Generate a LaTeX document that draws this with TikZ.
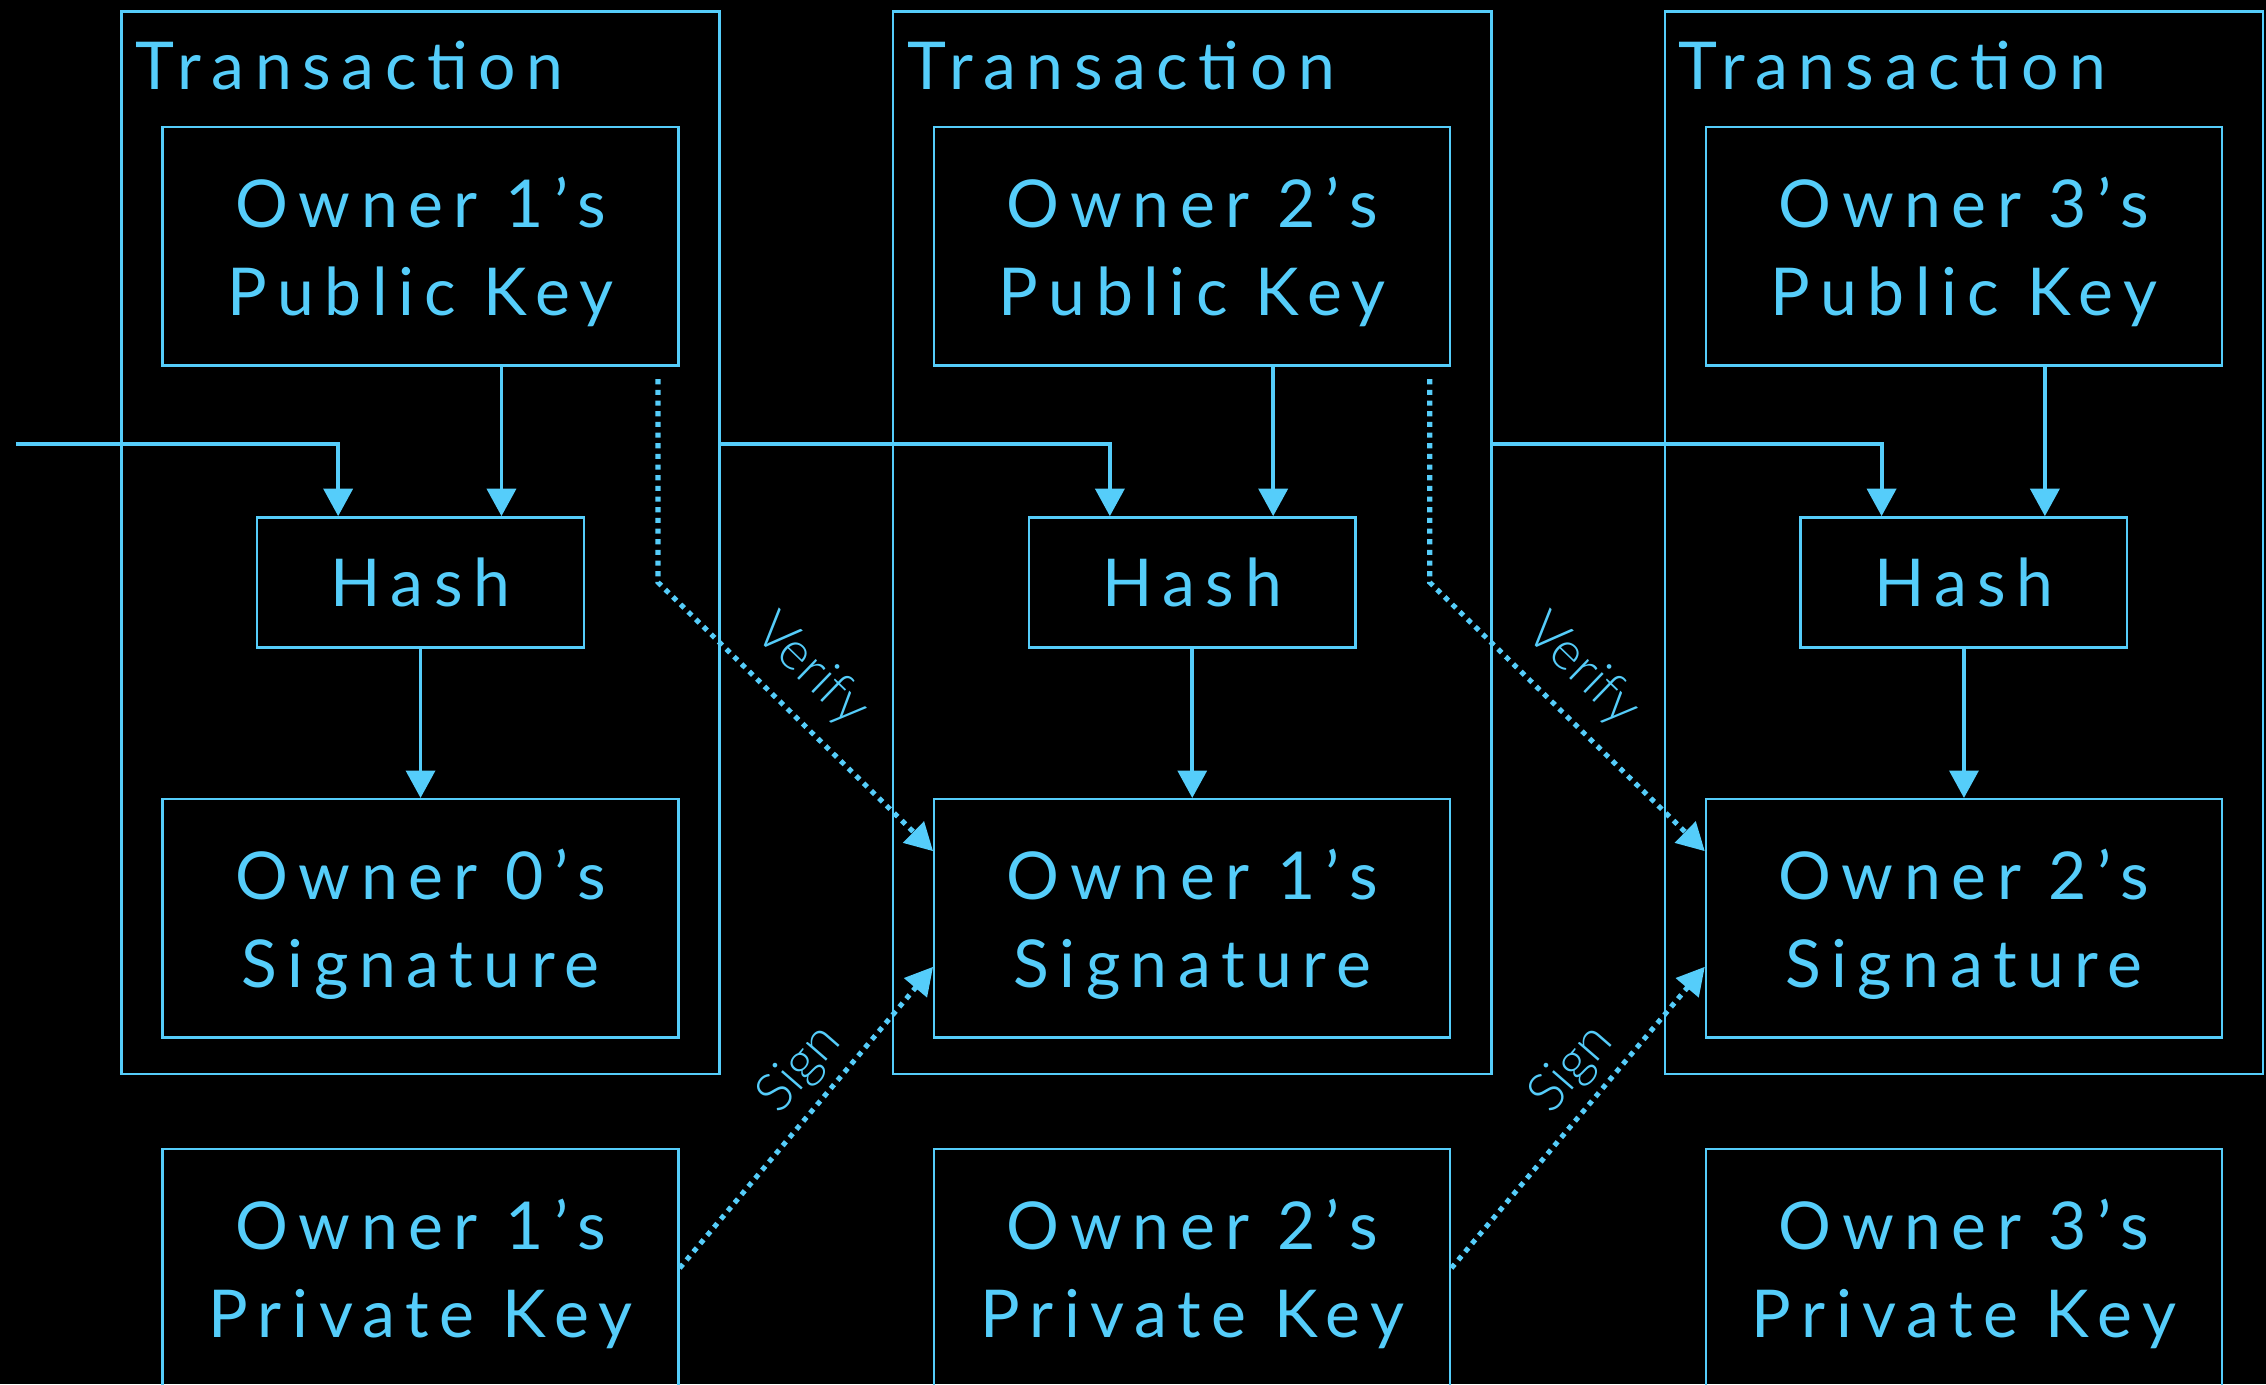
\documentclass[tikz,border=0pt]{standalone}
\usepackage{fontspec}
\setmainfont{Lato}
\newfontfamily\thinfont{Lato Light}
\usetikzlibrary{arrows.meta}
\definecolor{chain}{RGB}{85,205,250}
\newcommand\spaced{\fontsize{13}{17.4}\selectfont\addfontfeature{LetterSpace=16}}

\begin{document}
\begin{tikzpicture}[
		x=0.1mm, y=-0.1mm,
		every node/.style={text=chain},
		frame/.style={draw=chain, line width=0.47pt, minimum width=41.4mm, minimum height=73.5mm, inner sep=0pt},
		box/.style={draw=chain, line width=0.47pt, minimum width=35.7mm, minimum height=16.5mm, inner sep=0pt, align=center, font=\spaced, text depth=0pt},
		hashbox/.style={box, minimum width=22.6mm, minimum height=9mm},
		title/.style={anchor=base west, inner sep=0pt, font=\spaced},
		flow/.style={draw=chain, line width=0.77pt, -{Triangle[length=1.9mm,width=2mm]}},
		dots/.style={flow, line width=1pt, dash pattern=on 1pt off 1.1pt},
		tag/.style={inner sep=0pt, font=\thinfont\fontsize{10.5}{12}\selectfont}
		]
		\fill[black] (0,0) rectangle (1568,958);
		\useasboundingbox (0,0) rectangle (1568,958);

		% first transaction
		\node[frame] (t0) at (291,375.5) {};
		\node[title] (l0) at (93,62) {Transaction};
		\node[box] (p0) at (291,170.5) {Owner 1's\\Public Key};
		\node[hashbox] (h0) at (291,403) {Hash};
		\node[box] (s0) at (291,635.5) {Owner 0's\\Signature};
		\node[box] (k0) at (291,877.5) {Owner 1's\\Private Key};

		% second transaction
		\node[frame] (t1) at (825,375.5) {};
		\node[title] (l1) at (627,62) {Transaction};
		\node[box] (p1) at (825,170.5) {Owner 2's\\Public Key};
		\node[hashbox] (h1) at (825,403) {Hash};
		\node[box] (s1) at (825,635.5) {Owner 1's\\Signature};
		\node[box] (k1) at (825,877.5) {Owner 2's\\Private Key};

		% third transaction
		\node[frame] (t2) at (1359,375.5) {};
		\node[title] (l2) at (1161,62) {Transaction};
		\node[box] (p2) at (1359,170.5) {Owner 3's\\Public Key};
		\node[hashbox] (h2) at (1359,403) {Hash};
		\node[box] (s2) at (1359,635.5) {Owner 2's\\Signature};
		\node[box] (k2) at (1359,877.5) {Owner 3's\\Private Key};

		\coordinate (in) at (11,307);

		% hashing
		\draw[flow] (in) -| ([xshift=-5.7mm]h0.north);
		\draw[flow] (t0.east |- in) -| ([xshift=-5.7mm]h1.north);
		\draw[flow] (t1.east |- in) -| ([xshift=-5.7mm]h2.north);
		\draw[flow] ([xshift=5.6mm]p0.south) -- ([xshift=5.6mm]h0.north);
		\draw[flow] ([xshift=5.6mm]p1.south) -- ([xshift=5.6mm]h1.north);
		\draw[flow] ([xshift=5.6mm]p2.south) -- ([xshift=5.6mm]h2.north);
		\draw[flow] (h0) -- (s0);
		\draw[flow] (h1) -- (s1);
		\draw[flow] (h2) -- (s2);

		% verify and sign
		\coordinate (v0) at ([xshift=-1.5mm,yshift=-0.86mm]p0.south east);
		\coordinate (v1) at ([xshift=-1.5mm,yshift=-0.86mm]p1.south east);
		\draw[dots] (v0) -- (v0 |- h0.east) -- ([yshift=4.65mm]s1.west);
		\draw[dots] (v1) -- (v1 |- h1.east) -- ([yshift=4.65mm]s2.west);
		\draw[dots] (k0.east) -- ([yshift=-3.35mm]s1.west);
		\draw[dots] (k1.east) -- ([yshift=-3.35mm]s2.west);
		\node[tag, rotate=-44] (y0) at (561,464) {Verify};
		\node[tag, rotate=-44] (y1) at (1095,464) {Verify};
		\node[tag, rotate=49] (g0) at (554,740) {Sign};
		\node[tag, rotate=49] (g1) at (1088,740) {Sign};
\end{tikzpicture}
\end{document}
